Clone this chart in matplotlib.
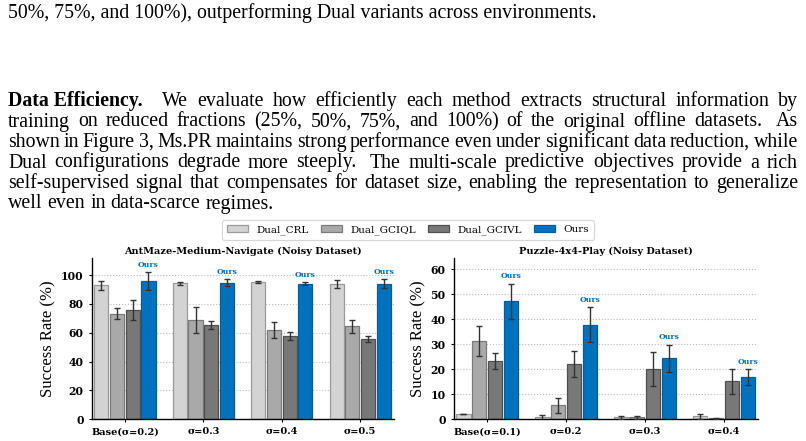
import matplotlib
matplotlib.use("Agg")
import matplotlib.pyplot as plt
import numpy as np

W, H = 806, 441

methods = ["Dual_CRL", "Dual_GCIQL", "Dual_GCIVL", "Ours"]
face_colors = ["#d3d3d3", "#a9a9a9", "#787878", "#0072bd"]
edge_colors = ["#9a9a9a", "#7a7a7a", "#505050", "#0a5c98"]

ant_groups = ["Base(σ=0.2)", "σ=0.3", "σ=0.4", "σ=0.5"]
ant_means = [
    [93.0, 94.4, 95.3, 94.0],   # Dual_CRL
    [73.3, 68.8, 62.0, 64.4],   # Dual_GCIQL
    [76.0, 65.3, 58.0, 55.8],   # Dual_GCIVL
    [96.0, 94.9, 94.0, 94.2],   # Ours
]
ant_errs = [
    [3.0, 1.0, 1.0, 2.9],
    [4.0, 9.0, 5.5, 4.5],
    [7.0, 2.8, 2.8, 2.2],
    [6.2, 2.2, 1.0, 2.9],
]

puz_groups = ["Base(σ=0.1)", "σ=0.2", "σ=0.3", "σ=0.4"]
puz_means = [
    [2.1, 0.7, 0.7, 1.1],
    [31.2, 5.5, 0.7, 0.3],
    [23.2, 22.0, 20.1, 15.1],
    [47.2, 37.7, 24.3, 16.7],
]
puz_errs = [
    [0.0, 1.0, 0.5, 1.0],
    [6.0, 3.0, 0.5, 0.3],
    [3.1, 5.2, 6.7, 5.0],
    [7.0, 7.0, 5.4, 3.2],
]

# text of the page above the figure
top_line = "50%, 75%, and 100%), outperforming Dual variants across environments."
para_head = "Data Efficiency."
para_lines = [
    "We evaluate how efficiently each method extracts structural information by",
    "training on reduced fractions (25%, 50%, 75%, and 100%) of the original offline datasets.  As",
    "shown in Figure 3, Ms.PR maintains strong performance even under significant data reduction, while",
    "Dual configurations degrade more steeply.  The multi-scale predictive objectives provide a rich",
    "self-supervised signal that compensates for dataset size, enabling the representation to generalize",
    "well even in data-scarce regimes.",
]

plt.rcParams["font.family"] = "DejaVu Serif"
fig = plt.figure(figsize=(W / 100, H / 100), dpi=100)
renderer = fig.canvas.get_renderer()


def px(x, y):
    return x / W, 1 - y / H


def width_of(t):
    return t.get_window_extent(renderer).width


# ---- page text, justified like the paper ----
text_font = "Liberation Serif"
probe = fig.text(0, 0, top_line, family=text_font, fontsize=10)
fs = 10 * 588 / width_of(probe)
probe.remove()

fig.text(*px(8, 18), top_line, family=text_font, fontsize=fs, va="baseline")

x_left, x_right = 8, 798
base_y = [106, 126.5, 147, 167.5, 188, 208.5]
for i, line in enumerate(para_lines):
    tokens = []
    if i == 0:
        tokens.append((para_head, "bold", 2.2))
    words = line.split(" ")
    j = 0
    while j < len(words):
        w = words[j]
        gap = 1.0
        if j + 1 < len(words) and words[j + 1] == "":
            gap = 1.7
            j += 1
        tokens.append((w, "normal", gap))
        j += 1
    objs = []
    for w, wt, gap in tokens:
        t = fig.text(0, 0, w, family=text_font, fontsize=fs, weight=wt, va="baseline")
        objs.append((t, width_of(t), gap))
    total = sum(o[1] for o in objs)
    gaps = [o[2] for o in objs[:-1]]
    last = i == len(para_lines) - 1
    if last:
        unit = fs * 100 / 72 * 0.25
    else:
        unit = (x_right - x_left - total) / sum(gaps)
    x = x_left
    for k, (t, wdt, gap) in enumerate(objs):
        t.set_position(px(x, base_y[i]))
        x += wdt + gap * unit


# ---- charts ----
def draw_panel(ax, groups, means, errs, title, ytop, yticks):
    x = np.arange(len(groups))
    width = 0.18
    for i, name in enumerate(methods):
        pos = x + (i - 1.5) * 0.2
        ax.bar(pos, means[i], width, color=face_colors[i], edgecolor=edge_colors[i],
               linewidth=0.9, label=name, zorder=2)
        ax.errorbar(pos, means[i], yerr=errs[i], fmt="none", ecolor="#333333",
                    elinewidth=1.0, capsize=2, capthick=1.0, zorder=3)
    for g in range(len(groups)):
        top = means[3][g] + errs[3][g]
        ax.text(x[g] + 0.3, top + 0.022 * ytop, "Ours", ha="center", va="bottom",
                color="#0072bd", fontsize=5.5, weight="bold")
    ax.set_xlim(-0.42, 3.43)
    ax.set_ylim(0, ytop)
    ax.set_xticks(x)
    ax.set_xticklabels(groups, fontsize=7, weight="bold")
    ax.set_yticks(yticks)
    ax.set_yticklabels([str(v) for v in yticks], fontsize=7.8, weight="bold")
    ax.tick_params(length=2.5, width=0.8)
    ax.set_ylabel("Success Rate (%)", family="Liberation Serif", fontsize=12, labelpad=3)
    ax.set_title(title, fontsize=7, weight="bold", pad=3)
    ax.yaxis.grid(True, linestyle=":", color="#bbbbbb", linewidth=0.8)
    ax.set_axisbelow(True)
    for s in ["top", "right"]:
        ax.spines[s].set_visible(False)
    for s in ["left", "bottom"]:
        ax.spines[s].set_linewidth(1.0)


ax1 = fig.add_axes([92 / W, 22 / H, 302 / W, 161 / H])
ax2 = fig.add_axes([454 / W, 22 / H, 304 / W, 161 / H])
draw_panel(ax1, ant_groups, ant_means, ant_errs,
           "AntMaze-Medium-Navigate (Noisy Dataset)", 112, [0, 20, 40, 60, 80, 100])
draw_panel(ax2, puz_groups, puz_means, puz_errs,
           "Puzzle-4x4-Play (Noisy Dataset)", 64.5, [0, 10, 20, 30, 40, 50, 60])

handles, labels = ax1.get_legend_handles_labels()
leg = fig.legend(handles, labels, loc="center", bbox_to_anchor=px(408, 230), ncol=4,
                 fontsize=7.5, frameon=True, handlelength=2.0, handleheight=0.6,
                 columnspacing=1.2, borderpad=0.45)
leg.get_frame().set_edgecolor("#cccccc")
leg.get_frame().set_linewidth(0.8)

fig.savefig("out.png", dpi=100)
